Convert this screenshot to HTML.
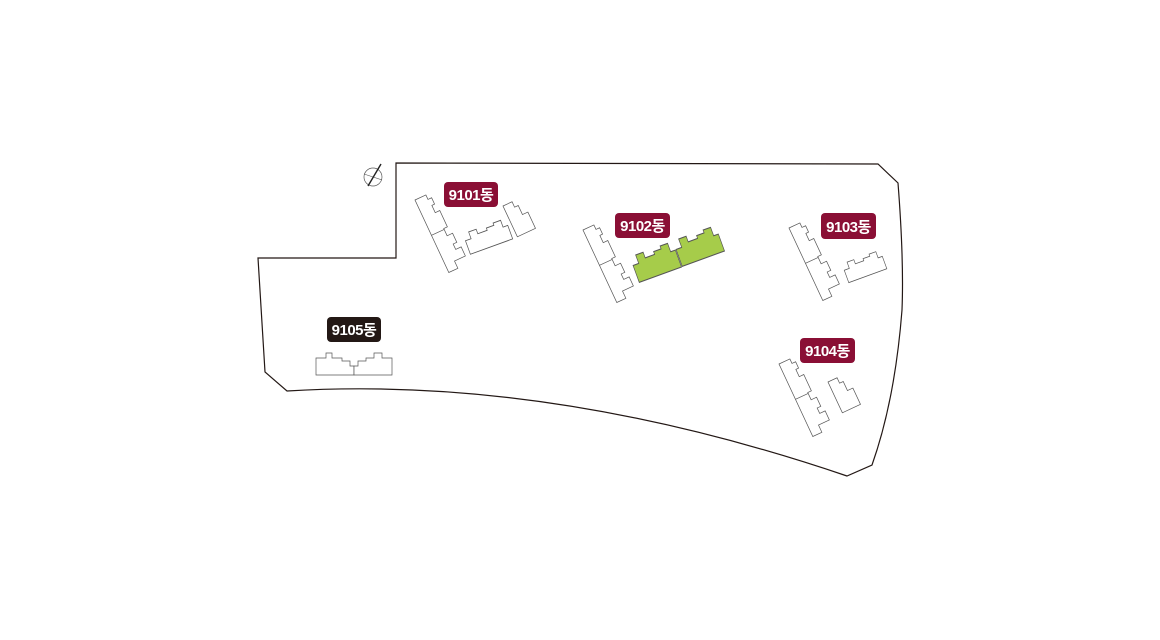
<!DOCTYPE html>
<html><head><meta charset="utf-8"><style>
html,body{margin:0;padding:0;background:#fff;}
svg{display:block}
text{font-family:"Liberation Sans","Noto Sans CJK KR",sans-serif;font-weight:bold;font-size:15px;fill:#fff;letter-spacing:-0.5px}
</style></head><body>
<svg width="1160" height="640" viewBox="0 0 1160 640" xmlns="http://www.w3.org/2000/svg">
<defs>
<path id="tall" d="M0,0 L12,0 L12,5 L16,5 L16,12 L13,12 L13,20 L18,20 L18,38 L14,38 L14,46 L20,46 L20,56 L16,56 L16,62 L22,62 L22,72 L10,72 L10,80 L0,80 Z M0,39 L14,39" fill="#fff" stroke="#555" stroke-width="0.7"/>
<path id="hor" d="M0,6 L6,6 L6,0 L14,0 L14,4 L24,4 L24,2 L32,2 L32,0 L40,0 L40,6 L45,6 L45,18 L0,18 Z" stroke="#555" stroke-width="0.7"/>
<path id="small" d="M0,0 L10,0 L10,6 L14,6 L14,16 L20,16 L20,34 L0,34 Z" fill="#fff" stroke="#555" stroke-width="0.7"/>
</defs>
<path d="M396,163 L878,164 L898,183 Q904,260 902,310 Q895,400 872,465 L847,476 Q550,375 287,391 L265,372 L258,258 L396,258 Z" fill="#fff" stroke="#231815" stroke-width="1.2"/>
<circle cx="373" cy="177" r="9" fill="none" stroke="#555" stroke-width="0.7"/>
<line x1="364" y1="174" x2="382" y2="180" stroke="#555" stroke-width="0.6"/>
<line x1="368" y1="186" x2="381" y2="164" stroke="#222" stroke-width="1.4"/>
<use href="#tall" transform="translate(415,200) rotate(-25)"/>
<use href="#hor" fill="#fff" transform="translate(463,234) rotate(-20) scale(1,1.2)"/>
<use href="#small" transform="translate(503,206) rotate(-25)"/>
<use href="#tall" transform="translate(583,230) rotate(-25)"/>
<use href="#hor" fill="#a6cc4a" transform="translate(630,257) rotate(-20) scale(1,1.5)"/>
<use href="#hor" fill="#a6cc4a" transform="translate(673,241) rotate(-20) scale(1,1.5)"/>
<use href="#tall" transform="translate(789,228) rotate(-25)"/>
<use href="#hor" fill="#fff" transform="translate(842,264) rotate(-20) scale(0.9,1.1)"/>
<use href="#tall" transform="translate(779,364) rotate(-25)"/>
<use href="#small" transform="translate(828,382) rotate(-25)"/>
<path d="M316,358 L326,358 L326,353 L332,353 L332,358 L342,358 L342,361 L350,361 L350,366 L354,366 L354,375 L316,375 Z" fill="#fff" stroke="#555" stroke-width="0.7"/>
<path d="M354,366 L358,366 L358,361 L366,361 L366,358 L374,358 L374,353 L382,353 L382,358 L392,358 L392,375 L354,375 Z" fill="#fff" stroke="#555" stroke-width="0.7"/>
<rect x="444" y="182" width="54" height="25" rx="4" fill="#8a0f35"/><text x="471" y="200" text-anchor="middle">9101동</text>
<rect x="615" y="213" width="55" height="25" rx="4" fill="#8a0f35"/><text x="642.5" y="231" text-anchor="middle">9102동</text>
<rect x="821" y="213" width="55" height="26" rx="4" fill="#8a0f35"/><text x="848.5" y="232" text-anchor="middle">9103동</text>
<rect x="800" y="338" width="55" height="25" rx="4" fill="#8a0f35"/><text x="827.5" y="356" text-anchor="middle">9104동</text>
<rect x="327" y="317" width="54" height="25" rx="4" fill="#231815"/><text x="354" y="335" text-anchor="middle">9105동</text>
</svg>
</body></html>
